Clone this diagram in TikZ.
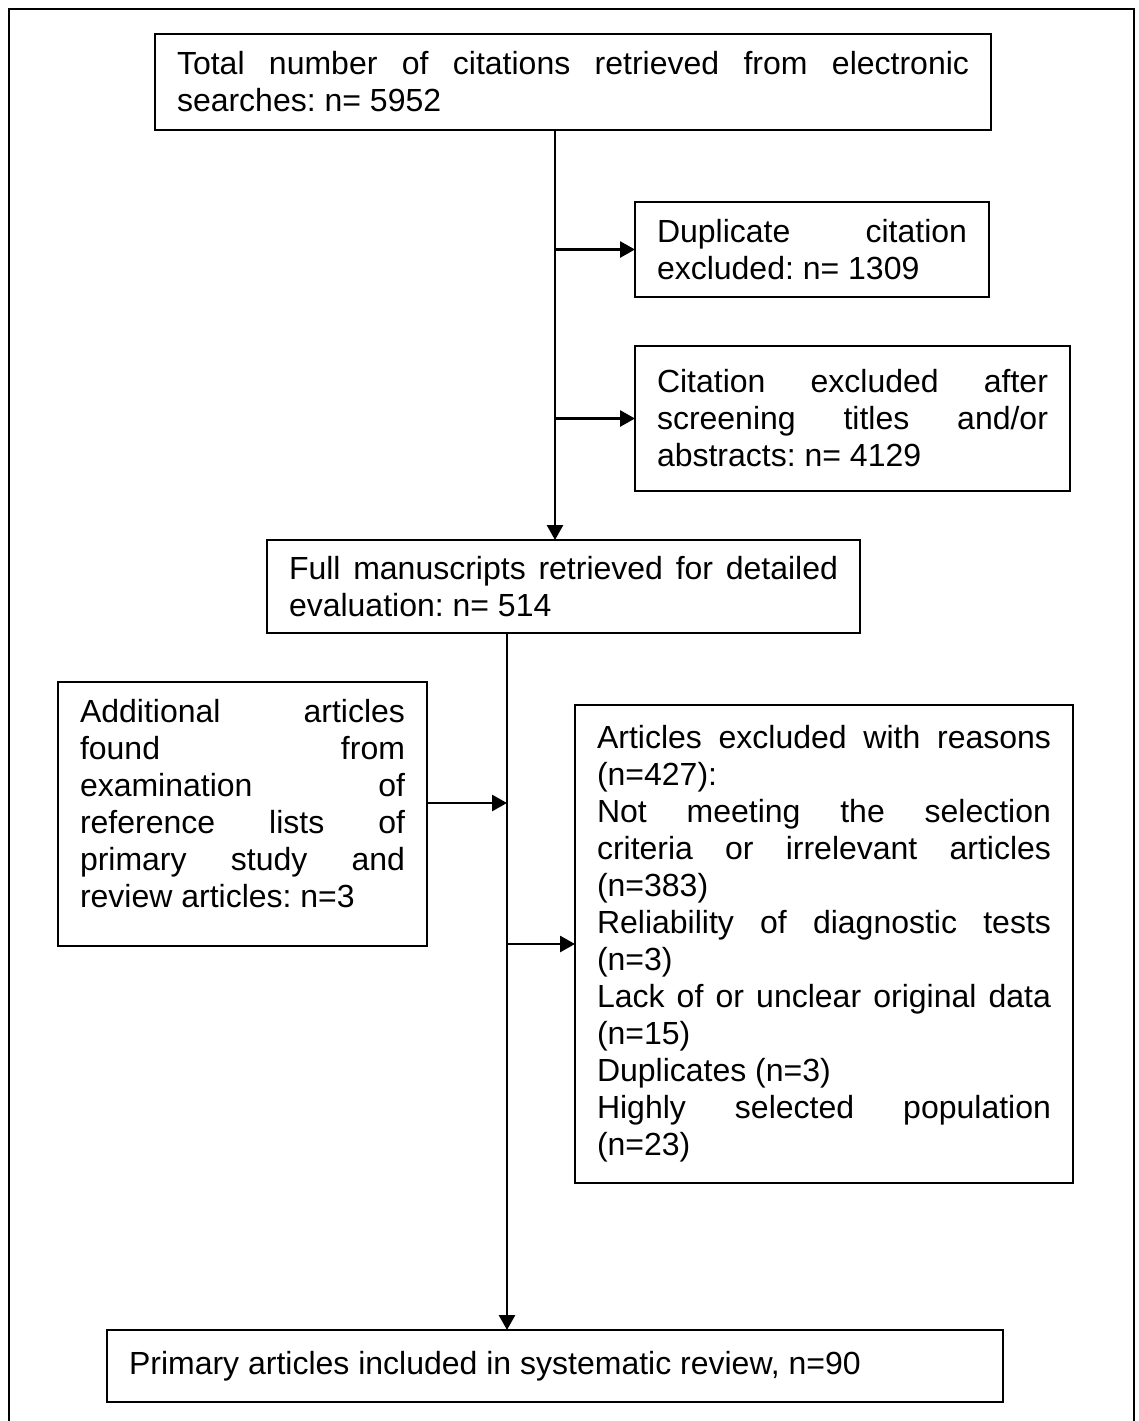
\documentclass[tikz,border=0pt]{standalone}
\usepackage{fontspec}
\setmainfont{Liberation Sans}
\usepackage{tikz}
\usetikzlibrary{positioning, arrows.meta}

\tolerance=10000
\hbadness=10000
\hyphenpenalty=10000
\frenchspacing

\tikzset{
  box/.style={draw, line width=1pt, anchor=north west, align=justify,
    inner xsep=11pt, inner ysep=0pt, outer sep=0pt,
    font=\fontsize{16pt}{18.5pt}\selectfont},
  flow/.style={line width=1.4pt, -{Triangle[length=7.5pt, width=8pt]}}
}

\begin{document}
\begin{tikzpicture}[x=0.5pt, y=-0.5pt]
  \useasboundingbox (0,0) rectangle (1139,1421);
  \draw[line width=1pt] (9,9) rectangle (1134,1440);

  \coordinate (trunk1) at (555,0);
  \coordinate (trunk2) at (507,0);

  \node[box, minimum width=418pt, minimum height=48pt, text width=396pt] (total) at (155,34)
    {Total number of citations retrieved from electronic searches: n= 5952};
  \node[box, minimum width=177pt, minimum height=47.5pt, text width=155pt] (dupl) at (635,202)
    {Duplicate citation excluded: n= 1309};
  \node[box, minimum width=217.5pt, minimum height=72.5pt, text width=195.5pt] (screen) at (635,346)
    {Citation excluded after screening titles and/or abstracts: n= 4129};
  \node[box, minimum width=296.5pt, minimum height=46.5pt, text width=274.5pt] (fulltext) at (267,540)
    {Full manuscripts retrieved for detailed evaluation: n= 514};
  \node[box, minimum width=184.5pt, minimum height=132pt, text width=162.5pt] (extra) at (58,682)
    {Additional articles found from examination of reference lists of primary study and review articles: n=3\rule[-10.5pt]{0pt}{0pt}};
  \node[box, minimum width=249pt, minimum height=239pt, text width=227pt] (reasons) at (575,705)
    {Articles excluded with reasons (n=427):\par
     Not meeting the selection criteria or irrelevant articles (n=383)\par
     Reliability of diagnostic tests (n=3)\par
     Lack of or unclear original data (n=15)\par
     Duplicates (n=3)\par
     Highly selected population (n=23)};
  \node[box, minimum width=448pt, minimum height=36pt, text width=426pt] (included) at (107,1330)
    {Primary articles included in systematic review, n=90};

  % first stage
  \draw[flow] (total.south -| trunk1) -- (fulltext.north -| trunk1);
  \draw[flow] (dupl.west -| trunk1) -- (dupl.west);
  \draw[flow] (screen.west -| trunk1) -- (screen.west);

  % second stage
  \draw[flow] (fulltext.south -| trunk2) -- (included.north -| trunk2);
  \draw[flow] ([yshift=5.5pt]extra.east) -- ([yshift=5.5pt]extra.east -| trunk2);
  \draw[flow] (reasons.west -| trunk2) -- (reasons.west);
\end{tikzpicture}
\end{document}
